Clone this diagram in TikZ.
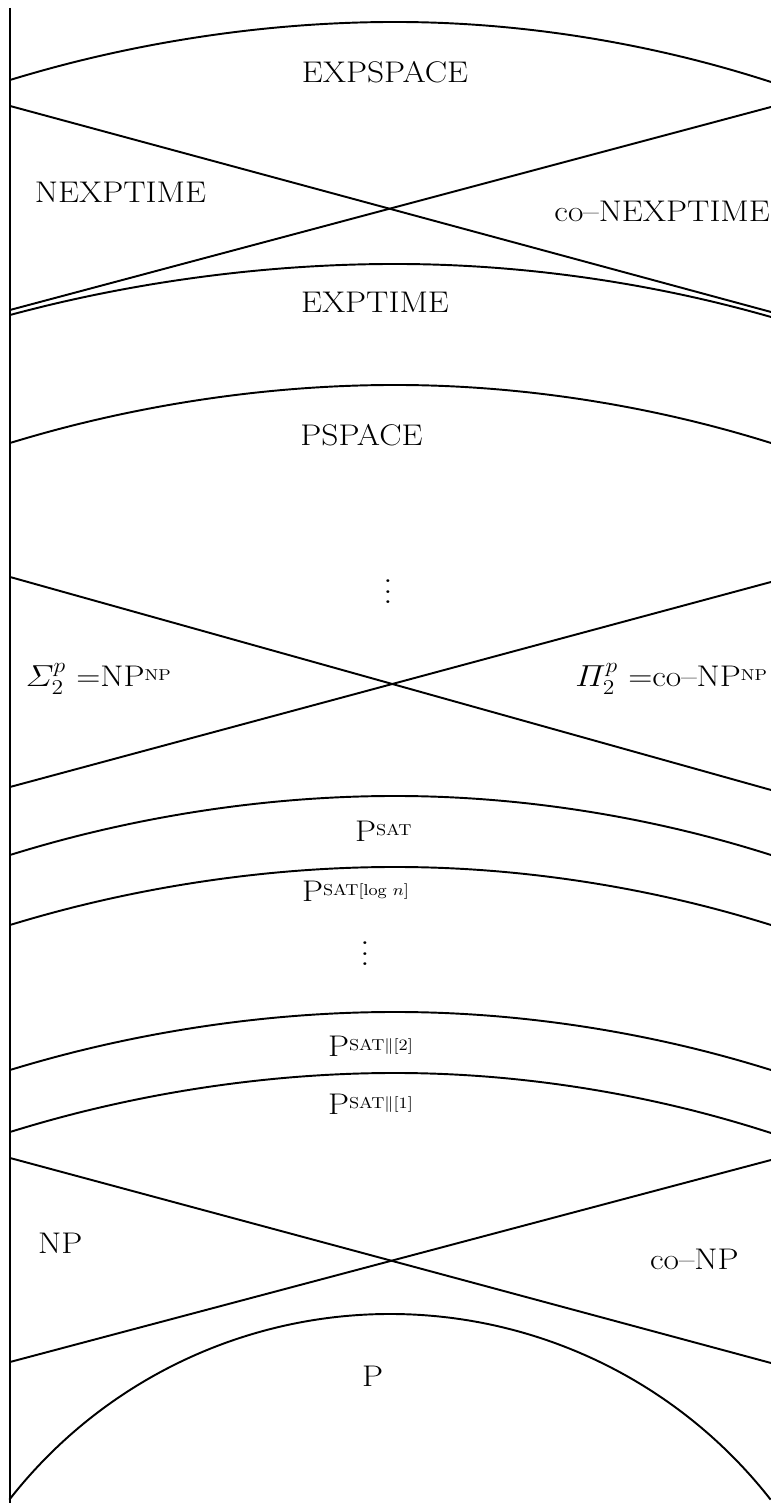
\documentclass[tikz,border=0pt]{standalone}
\usepackage{amsmath}
\usepackage{tikz}

\newcommand{\sups}[1]{\raisebox{0.12cm}{\fontsize{9}{10}\selectfont #1}}

\begin{document}
\begin{tikzpicture}[
	line width=1.1pt,
	every node/.style={font=\fontsize{17}{20}\selectfont, inner sep=0pt, xscale=1.12},
	dotsnode/.style={font=\fontsize{10}{12}\selectfont, scale=1.5}
	]
	\useasboundingbox (0,0) rectangle (15.42,30.06);

	% Left border
	\draw[line width=0.8pt] (0.2,29.9) -- (0.2,0);

	% EXPSPACE
	\draw (0.2,28.46) parabola bend (7.9,29.62) (15.42,28.42);
	\node[anchor=base] (expspace) at (7.7,28.4) {EXPSPACE};

	% NEXPTIME and co-NEXPTIME
	\draw (0.2,27.94) -- (15.42,23.82);
	\draw (0.2,23.86) -- (15.42,27.92);
	\node[anchor=base] (nexptime) at (2.41,26.0) {NEXPTIME};
	\node[anchor=base east] (conexptime) at (15.42,25.62) {co--NEXPTIME};

	% EXPTIME
	\draw (0.2,23.76) parabola bend (7.9,24.78) (15.42,23.72);
	\node[anchor=base] (exptime) at (7.5,23.8) {EXPTIME};

	% PSPACE
	\draw (0.2,21.2) parabola bend (7.9,22.36) (15.42,21.2);
	\node[anchor=base] (pspace) at (7.23,21.14) {PSPACE};
	\node[dotsnode] (dotsa) at (7.76,18.38) {$\vdots$};

	% Second level of the hierarchy
	\draw (0.2,18.52) -- (15.42,14.26);
	\draw (0.2,14.32) -- (15.42,18.42);
	\node[anchor=base west] (sigmatwo) at (0.49,16.32) {$\varSigma^p_2$ =NP\sups{NP}};
	\node[anchor=base east] (pitwo) at (15.36,16.32) {$\varPi^p_2$ =co--NP\sups{NP}};

	% Queries to SAT
	\draw (0.2,12.96) parabola bend (7.9,14.14) (15.42,12.96);
	\node[anchor=base west] (psat) at (7.08,13.22) {P\sups{SAT}};
	\draw (0.2,11.56) parabola bend (7.9,12.72) (15.42,11.56);
	\node[anchor=base west] (psatlog) at (6.02,12.02) {P\sups{SAT[log $n$]}};
	\node[dotsnode] (dotsb) at (7.3,11.14) {$\vdots$};
	\draw (0.2,8.66) parabola bend (7.9,9.82) (15.42,8.66);
	\node[anchor=base west] (psattwo) at (6.54,8.92) {P\sups{SAT$\|$[2]}};
	\draw (0.2,7.42) parabola bend (7.9,8.6) (15.42,7.40);
	\node[anchor=base west] (psatone) at (6.54,7.76) {P\sups{SAT$\|$[1]}};

	% NP and co-NP
	\draw (0.2,6.9) -- (15.42,2.8);
	\draw (0.2,2.82) -- (15.42,6.86);
	\node[anchor=base west] (np) at (0.74,4.98) {NP};
	\node[anchor=base west] (conp) at (12.98,4.66) {co--NP};

	% P
	\draw (7.8,-5.88) ++(142:9.66) arc[start angle=142, end angle=38, radius=9.66];
	\node[anchor=base west] (p) at (7.22,2.32) {P};
\end{tikzpicture}
\end{document}
